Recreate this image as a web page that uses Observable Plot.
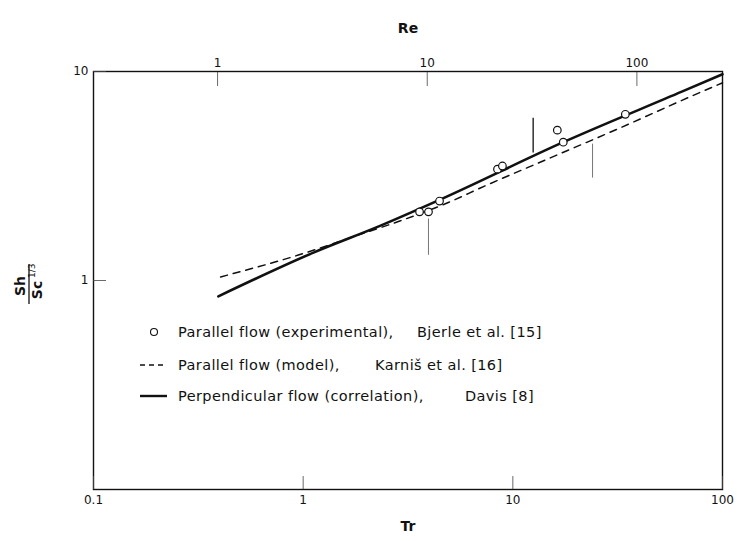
<!DOCTYPE html>
<html>
<head>
<meta charset="utf-8">
<script src="https://cdn.jsdelivr.net/npm/d3@7"></script>
<script src="https://cdn.jsdelivr.net/npm/@observablehq/plot@0.6"></script>
<style>
  html, body { margin: 0; padding: 0; background: #fff; }
  #chart { width: 737px; height: 541px; }
</style>
</head>
<body>
<div id="chart"></div>
<script>
// ---- data ----
const trTicks = [0.1, 1, 10, 100];
const shTicks = [1, 10];
const reTicks = [1, 10, 100];
const reOverTr = 2.56; // Re / Tr ratio

// Parallel flow (experimental), Bjerle et al. [15]
const expTr = [3.59, 3.96, 4.47, 8.45, 8.92, 16.3, 17.4, 34.4];
const expSh = [2.13, 2.13, 2.40, 3.41, 3.53, 5.24, 4.59, 6.24];

// Parallel flow (model), Karniš et al. [16]
const modelTr = [0.404, 0.94, 2.0, 2.91, 5.21, 7.0, 15, 31.5, 72.6, 100];
const modelSh = [1.04, 1.32, 1.70, 1.93, 2.42, 2.77, 3.85, 5.3, 7.69, 8.83];

// Perpendicular flow (correlation), Davis [8]
const corrTr = [0.394, 1.12, 2.34, 4.47, 17.4, 64.4, 100];
const corrSh = [0.84, 1.36, 1.83, 2.43, 4.59, 8.03, 9.7];

// vertical marker lines
const thinMarkTr = [3.96, 24.0];
const thinMarkLo = [1.32, 3.09];
const thinMarkHi = [1.97, 4.49];
const boldMarkTr = [12.5];
const boldMarkLo = [4.07];
const boldMarkHi = [5.97];

const legendLabels = [
  ["Parallel flow (experimental),", "Bjerle et al. [15]"],
  ["Parallel flow (model),", "Karniš et al. [16]"],
  ["Perpendicular flow (correlation),", "Davis [8]"]
];

// ---- build tables ----
const expData = expTr.map((t, i) => ({tr: t, sh: expSh[i]}));
const modelData = modelTr.map((t, i) => ({tr: t, sh: modelSh[i]}));
const corrData = corrTr.map((t, i) => ({tr: t, sh: corrSh[i]}));
const thinMarks = thinMarkTr.map((t, i) => ({tr: t, lo: thinMarkLo[i], hi: thinMarkHi[i]}));
const boldMarks = boldMarkTr.map((t, i) => ({tr: t, lo: boldMarkLo[i], hi: boldMarkHi[i]}));

const font = "DejaVu Sans";
const ink = "#111";

const chart = Plot.plot({
  width: 737,
  height: 541,
  marginLeft: 93,
  marginRight: 15,
  marginTop: 71,
  marginBottom: 52,
  style: {fontFamily: font, fontSize: "12px", color: ink, background: "#fff", overflow: "visible"},
  x: {type: "log", domain: [0.1, 100]},
  y: {type: "log", domain: [0.1, 10]},
  marks: [
    Plot.frame({stroke: ink, strokeWidth: 1.4}),
    Plot.axisX({anchor: "bottom", ticks: trTicks, tickFormat: d => String(d), tickSize: -13, tickPadding: 19, label: null, stroke: "#444", strokeWidth: 0.8}),
    Plot.axisX({anchor: "top", ticks: reTicks.map(r => r / reOverTr), tickFormat: () => "", tickSize: -14, label: null, stroke: "#444", strokeWidth: 0.8}),
    Plot.text(reTicks, {x: r => r / reOverTr, text: r => String(r), frameAnchor: "top", lineAnchor: "bottom", dy: -5, fontSize: 12, fill: ink}),
    Plot.axisY({anchor: "left", ticks: shTicks, tickFormat: d => String(d), tickSize: -13, tickPadding: 18, label: null, stroke: "#444", strokeWidth: 0.8}),
    Plot.text(["Re"], {frameAnchor: "top", dy: -48, fontSize: 14, fontWeight: "bold", fill: ink}),
    Plot.text(["Tr"], {frameAnchor: "bottom", dy: 41, fontSize: 14, fontWeight: "bold", fill: ink}),
    Plot.ruleX(thinMarks, {x: "tr", y1: "lo", y2: "hi", stroke: "#666", strokeWidth: 0.9}),
    Plot.ruleX(boldMarks, {x: "tr", y1: "lo", y2: "hi", stroke: ink, strokeWidth: 1.3}),
    Plot.line(modelData, {x: "tr", y: "sh", stroke: ink, strokeWidth: 1.5, strokeDasharray: "7,6", curve: "monotone-x"}),
    Plot.line(corrData, {x: "tr", y: "sh", stroke: ink, strokeWidth: 2.6, curve: "monotone-x"}),
    Plot.dot(expData, {x: "tr", y: "sh", r: 3.8, fill: "#fff", stroke: ink, strokeWidth: 1.2})
  ]
});

document.getElementById("chart").appendChild(chart);

// ---- y axis title (fraction Sh / Sc^1/3, rotated) ----
const svg = d3.select(chart);
const yt = svg.append("g")
  .attr("transform", "translate(29,286) rotate(-90)")
  .attr("font-family", font)
  .attr("fill", ink)
  .attr("font-weight", "bold");
yt.append("text").attr("x", 0).attr("y", -4).attr("text-anchor", "middle").attr("font-size", 14).text("Sh");
yt.append("line").attr("x1", -18).attr("x2", 22).attr("y1", 0).attr("y2", 0).attr("stroke", ink).attr("stroke-width", 1.3);
yt.append("text").attr("x", -4).attr("y", 13).attr("text-anchor", "middle").attr("font-size", 14).text("Sc");
yt.append("text").attr("x", 8).attr("y", 6).attr("text-anchor", "start").attr("font-size", 9).attr("font-weight", "normal").text("1/3");

// ---- legend (inside the plot) ----
const lg = svg.append("g").attr("font-family", font).attr("font-size", 14.5).attr("letter-spacing", "0.4px").attr("fill", ink).attr("text-anchor", "start");
const rowY = [332, 365, 396];
const col2X = [417, 375, 465];
lg.append("circle").attr("cx", 154).attr("cy", rowY[0]).attr("r", 3.5).attr("fill", "#fff").attr("stroke", ink).attr("stroke-width", 1.1);
lg.append("line").attr("x1", 140).attr("x2", 167).attr("y1", rowY[1]).attr("y2", rowY[1]).attr("stroke", ink).attr("stroke-width", 1.4).attr("stroke-dasharray", "5,4");
lg.append("line").attr("x1", 140).attr("x2", 167).attr("y1", rowY[2]).attr("y2", rowY[2]).attr("stroke", ink).attr("stroke-width", 2.4);
legendLabels.forEach((lab, i) => {
  lg.append("text").attr("x", 178).attr("y", rowY[i]).attr("dy", "0.35em").attr("text-anchor", "start").text(lab[0]);
  lg.append("text").attr("x", col2X[i]).attr("y", rowY[i]).attr("dy", "0.35em").attr("text-anchor", "start").text(lab[1]);
});
</script>
</body>
</html>
